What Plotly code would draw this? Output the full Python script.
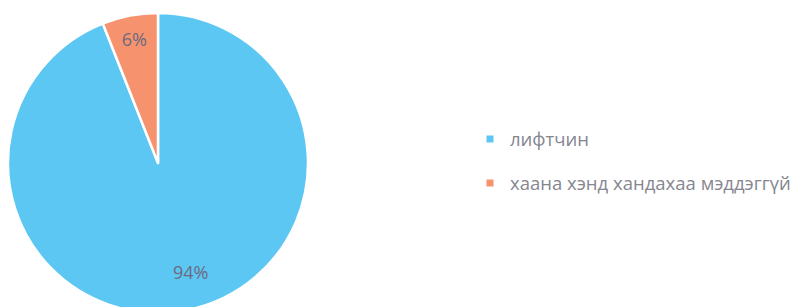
import plotly.graph_objects as go

labels = ["лифтчин", "хаана хэнд хандахаа мэддэггүй"]
values = [94, 6]
colors = ["#5DC7F4", "#F6926D"]
pad = "\u00a0" * 8
lift = "\u00a0<br>" * 3

fig = go.Figure()
fig.add_trace(go.Pie(
    labels=labels, values=values, sort=False, direction="clockwise", rotation=0,
    marker=dict(colors=colors, line=dict(color="white", width=2.5)),
    texttemplate=[lift + pad + "%{percent:.0%}", "%{percent:.0%}"],
    textposition="inside", insidetextorientation="horizontal",
    textfont=dict(family="Open Sans", size=18, color="#6C6A80"),
    domain=dict(x=[0, 300/799], y=[0, 1]),
    showlegend=False, hoverinfo="label+percent",
))
for lab, col in zip(labels, colors):
    fig.add_trace(go.Scatter(
        x=[None], y=[None], mode="markers", name=lab, legendgroup=lab,
        marker=dict(symbol="square", size=7, color=col),
    ))

fig.update_layout(
    width=799, height=307,
    margin=dict(l=0, r=0, t=5, b=2),
    paper_bgcolor="white", plot_bgcolor="white",
    xaxis=dict(visible=False), yaxis=dict(visible=False),
    legend=dict(x=462/799, xanchor="left", y=1 - 110/307, yanchor="top",
                font=dict(family="Open Sans", size=18.5, color="#86868F"),
                tracegroupgap=17, bgcolor="rgba(0,0,0,0)"),
)
fig.write_html("out.html")
